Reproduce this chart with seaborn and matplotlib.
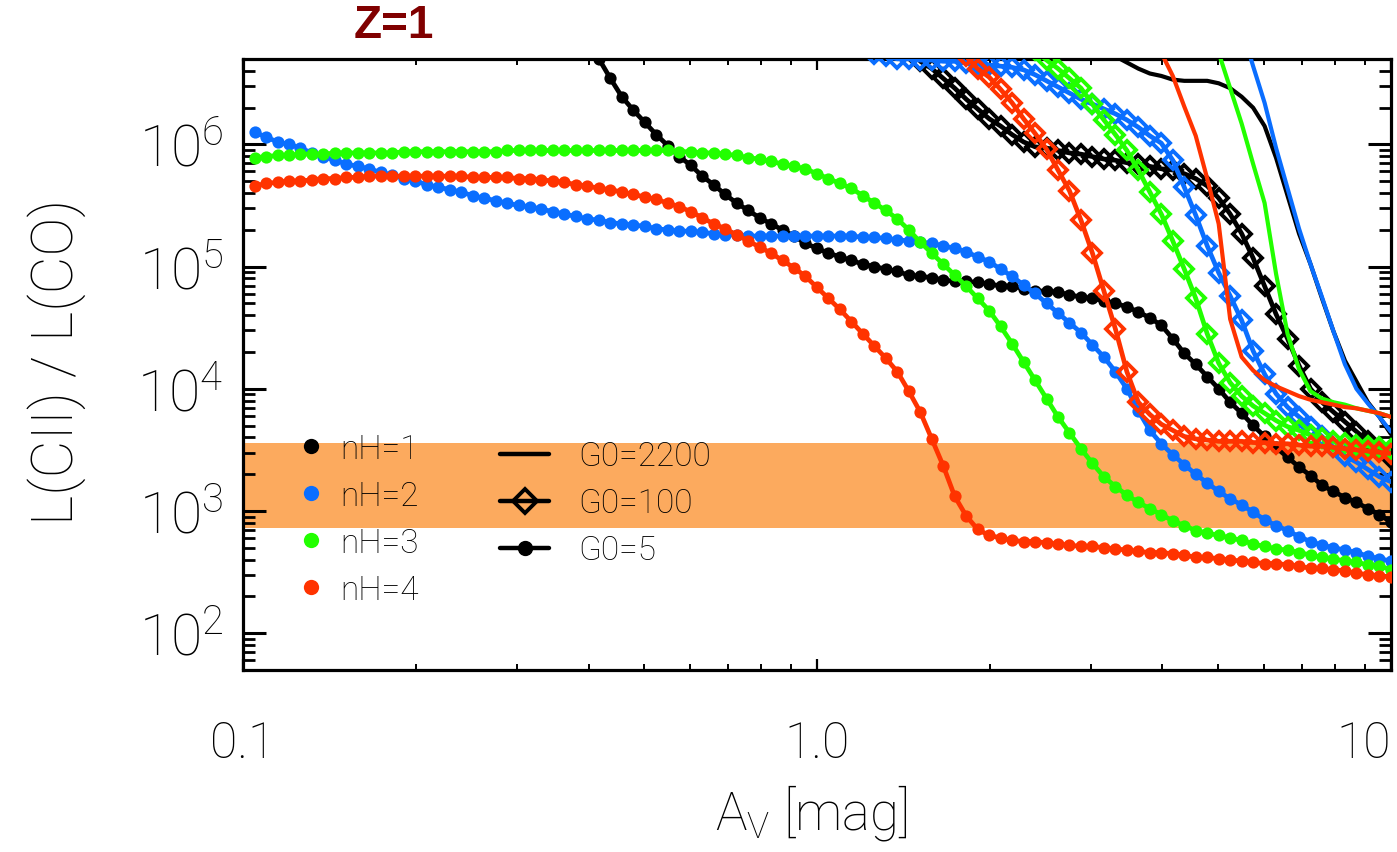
import numpy as np
import matplotlib
matplotlib.use("Agg")
import matplotlib.pyplot as plt
import seaborn as sns
from matplotlib.lines import Line2D
from matplotlib.ticker import FixedLocator, FixedFormatter, NullFormatter, LogLocator

# ---------------- data (log10 of L[CII]/L[CO]) ----------------
# model Av grid: 50 samples per decade, ending at Av = 10
av_grid = np.logspace(-0.98, 1.0, 100)

# G0 = 5  (filled dots)
g5_nh1 = [6.85, 6.70, 6.54, 6.39, 6.28, 6.18, 6.08, 5.99, 5.90, 5.83, 5.74,
          5.67, 5.59, 5.52, 5.46, 5.40, 5.35, 5.30, 5.25, 5.19, 5.15,
          5.11, 5.08, 5.05, 5.02, 5.00, 4.98, 4.96, 4.93, 4.92, 4.91,
          4.89, 4.88, 4.88, 4.87, 4.86, 4.84, 4.84, 4.82, 4.80, 4.80,
          4.79, 4.77, 4.75, 4.74, 4.72, 4.70, 4.67, 4.63, 4.58, 4.52,
          4.41, 4.29, 4.20, 4.10, 4.00, 3.89, 3.80, 3.70, 3.61, 3.52,
          3.44, 3.36, 3.29, 3.21, 3.16, 3.11, 3.07, 3.02, 2.97, 2.91]
g5_nh2 = [6.10, 6.06, 6.02, 6.00, 5.97, 5.93, 5.90, 5.87, 5.84, 5.82,
          5.80, 5.77, 5.75, 5.72, 5.70, 5.67, 5.65, 5.63, 5.61, 5.58,
          5.56, 5.54, 5.52, 5.50, 5.49, 5.47, 5.45, 5.43, 5.41, 5.39,
          5.38, 5.36, 5.35, 5.34, 5.33, 5.31, 5.30, 5.29, 5.29, 5.28,
          5.27, 5.26, 5.26, 5.25, 5.25, 5.25, 5.25, 5.25, 5.25, 5.25,
          5.25, 5.25, 5.25, 5.24, 5.24, 5.23, 5.22, 5.21, 5.20, 5.19,
          5.17, 5.15, 5.12, 5.08, 5.04, 4.98, 4.92, 4.85, 4.78, 4.70,
          4.62, 4.54, 4.46, 4.36, 4.26, 4.14, 4.00, 3.82, 3.66, 3.55,
          3.46, 3.38, 3.30, 3.23, 3.16, 3.10, 3.05, 2.99, 2.93, 2.88,
          2.84, 2.79, 2.75, 2.72, 2.70, 2.68, 2.66, 2.63, 2.61, 2.59]
g5_nh3 = [5.89, 5.90, 5.91, 5.91, 5.92, 5.92, 5.92, 5.93, 5.93, 5.93,
          5.93, 5.93, 5.93, 5.94, 5.94, 5.94, 5.94, 5.94, 5.94, 5.94,
          5.94, 5.94, 5.95, 5.95, 5.95, 5.95, 5.95, 5.95, 5.95, 5.95,
          5.95, 5.95, 5.95, 5.95, 5.95, 5.95, 5.95, 5.94, 5.94, 5.93,
          5.93, 5.92, 5.91, 5.89, 5.88, 5.86, 5.84, 5.82, 5.80, 5.76,
          5.72, 5.68, 5.64, 5.58, 5.52, 5.46, 5.39, 5.30, 5.20, 5.11,
          5.02, 4.93, 4.84, 4.74, 4.64, 4.51, 4.37, 4.22, 4.07, 3.92,
          3.77, 3.64, 3.51, 3.39, 3.28, 3.20, 3.13, 3.07, 3.02, 2.97,
          2.92, 2.88, 2.84, 2.82, 2.80, 2.78, 2.76, 2.73, 2.71, 2.69,
          2.68, 2.66, 2.64, 2.62, 2.61, 2.59, 2.58, 2.56, 2.55, 2.52]
g5_nh4 = [5.66, 5.68, 5.69, 5.70, 5.70, 5.71, 5.72, 5.72, 5.73, 5.73,
          5.74, 5.74, 5.74, 5.74, 5.74, 5.74, 5.74, 5.74, 5.74, 5.73,
          5.73, 5.73, 5.73, 5.72, 5.72, 5.71, 5.70, 5.69, 5.67, 5.66,
          5.64, 5.63, 5.61, 5.59, 5.57, 5.55, 5.52, 5.49, 5.45, 5.40,
          5.35, 5.31, 5.26, 5.21, 5.16, 5.11, 5.05, 4.99, 4.92, 4.83,
          4.74, 4.65, 4.55, 4.45, 4.35, 4.25, 4.14, 3.98, 3.81, 3.59,
          3.37, 3.12, 2.96, 2.85, 2.80, 2.78, 2.76, 2.75, 2.75, 2.74,
          2.73, 2.72, 2.71, 2.71, 2.70, 2.69, 2.68, 2.67, 2.66, 2.66,
          2.65, 2.64, 2.62, 2.62, 2.61, 2.60, 2.59, 2.58, 2.57, 2.57,
          2.56, 2.55, 2.53, 2.53, 2.52, 2.51, 2.49, 2.48, 2.47, 2.46]

# G0 = 100  (open diamonds)
g100_nh1 = [6.68, 6.62, 6.54, 6.46, 6.37, 6.29, 6.21, 6.15, 6.08, 6.02,
            5.98, 5.97, 5.95, 5.93, 5.92, 5.90, 5.88, 5.87, 5.85, 5.84,
            5.82, 5.80, 5.79, 5.76, 5.72, 5.66, 5.56, 5.43, 5.27, 5.07,
            4.84, 4.61, 4.41, 4.19, 4.00, 3.89, 3.81, 3.73, 3.65, 3.57,
            3.49, 3.43]
g100_nh2 = [6.74, 6.72, 6.70, 6.70, 6.69, 6.69, 6.68, 6.68, 6.67, 6.66,
            6.65, 6.64, 6.63, 6.61, 6.57, 6.52, 6.47, 6.42, 6.37, 6.33,
            6.29, 6.25, 6.20, 6.14, 6.07, 6.01, 5.87, 5.65, 5.42, 5.17,
            4.95, 4.76, 4.56, 4.31, 4.12, 3.96, 3.85, 3.77, 3.69, 3.61,
            3.52, 3.45, 3.40, 3.34, 3.28, 3.24]
g100_nh3 = [6.83, 6.77, 6.69, 6.62, 6.54, 6.46, 6.33, 6.20, 6.08, 5.95,
            5.79, 5.61, 5.43, 5.21, 4.98, 4.74, 4.45, 4.21, 4.05, 3.94,
            3.86, 3.80, 3.74, 3.69, 3.66, 3.62, 3.60, 3.57, 3.56, 3.54,
            3.53, 3.52, 3.51]
g100_nh4 = [6.80, 6.72, 6.62, 6.55, 6.45, 6.34, 6.21, 6.09, 5.96, 5.79,
            5.62, 5.38, 5.11, 4.80, 4.49, 4.14, 3.89, 3.79, 3.71, 3.66,
            3.61, 3.59, 3.58, 3.57, 3.57, 3.57, 3.56, 3.56, 3.55, 3.55,
            3.54, 3.53, 3.53, 3.52, 3.51, 3.50, 3.49, 3.48, 3.47]

# G0 = 2200  (plain lines)
g2200_nh1 = [6.72, 6.67, 6.62, 6.58, 6.56, 6.53, 6.52, 6.52, 6.52, 6.50,
             6.46, 6.39, 6.30, 6.15, 5.89, 5.58, 5.27, 5.02, 4.74, 4.47,
             4.23, 4.06, 3.89, 3.77, 3.63]
g2200_nh2 = [6.95, 6.64, 6.34, 5.97, 5.64, 5.31, 5.02, 4.75, 4.47, 4.20,
             4.00, 3.88, 3.77, 3.65]
g2200_nh3 = [6.75, 6.46, 6.17, 5.84, 5.52, 4.94, 4.45, 4.16, 3.98, 3.92,
             3.89, 3.87, 3.84, 3.82, 3.80, 3.77]
g2200_nh4 = [6.75, 6.56, 6.31, 6.07, 5.72, 5.35, 4.57, 4.26, 4.15, 4.07,
             4.02, 3.98, 3.94, 3.91, 3.89, 3.87, 3.85, 3.84, 3.82, 3.80,
             3.77]

nh_labels = ["nH=1", "nH=2", "nH=3", "nH=4"]
g0_labels = ["G0=2200", "G0=100", "G0=5"]
band_low, band_high = 730, 3600
xtick_vals = [0.1, 1.0, 10]
xtick_labels = ["0.1", "1.0", "10"]
ytick_vals = [1e2, 1e3, 1e4, 1e5, 1e6]
ytick_labels = [r"$\mathregular{10^{%d}}$" % e for e in [2, 3, 4, 5, 6]]

colors = ["#000000", "#0A6EFF", "#22FF00", "#FF3300"]
band_color = "#FCAA5E"

# ---------------- style ----------------
sns.set_style("ticks")
plt.rcParams["font.family"] = ["Roboto", "DejaVu Sans"]
plt.rcParams["font.weight"] = "light"
plt.rcParams["mathtext.fontset"] = "custom"
plt.rcParams["mathtext.rm"] = "Roboto:light"
for key in ["text.color", "axes.labelcolor", "xtick.color", "ytick.color"]:
    plt.rcParams[key] = "black"
thin = "light"

fig = plt.figure(figsize=(13.97, 8.53), dpi=100)
ax = fig.add_axes([0.174, 0.2134, 0.8216, 0.7163])

ax.axhspan(band_low, band_high, color=band_color, lw=0, zorder=0)

def draw(vals, color, kind):
    vals = np.asarray(vals)
    x = av_grid[len(av_grid) - len(vals):]
    y = 10 ** vals
    if kind == "dot":
        sns.lineplot(x=x, y=y, ax=ax, color=color, lw=3.4, marker="o", markersize=8.8,
                     markeredgecolor=color, markerfacecolor=color, markeredgewidth=0,
                     estimator=None, sort=False, legend=False, zorder=3)
    elif kind == "diamond":
        sns.lineplot(x=x, y=y, ax=ax, color=color, lw=3.4, marker="D", markersize=9.5,
                     markeredgecolor=color, markerfacecolor="none", markeredgewidth=2.8,
                     estimator=None, sort=False, legend=False, zorder=3)
    else:
        sns.lineplot(x=x, y=y, ax=ax, color=color, lw=3.0,
                     estimator=None, sort=False, legend=False, zorder=3)

for vals, c in zip([g5_nh1, g5_nh2, g5_nh3, g5_nh4], colors):
    draw(vals, c, "dot")
for vals, c in zip([g100_nh1, g100_nh2, g100_nh3, g100_nh4], colors):
    draw(vals, c, "diamond")
for vals, c in zip([g2200_nh1, g2200_nh2, g2200_nh3, g2200_nh4], colors):
    draw(vals, c, "line")

ax.set_xscale("log")
ax.set_yscale("log")
ax.set_xlim(0.1, 10.0)
ax.set_ylim(50, 5.0e6)

ax.xaxis.set_major_locator(FixedLocator(xtick_vals))
ax.xaxis.set_major_formatter(FixedFormatter(xtick_labels))
ax.xaxis.set_minor_locator(LogLocator(base=10, subs=np.arange(2, 10)))
ax.xaxis.set_minor_formatter(NullFormatter())
ax.yaxis.set_major_locator(FixedLocator(ytick_vals))
ax.yaxis.set_major_formatter(FixedFormatter(ytick_labels))
ax.yaxis.set_minor_locator(LogLocator(base=10, subs=np.arange(2, 10), numticks=20))
ax.yaxis.set_minor_formatter(NullFormatter())

for s in ax.spines.values():
    s.set_linewidth(2.3)
    s.set_color("black")

ax.tick_params(axis="x", which="major", direction="in", length=8, width=1.6,
               top=True, bottom=True, pad=36, labelsize=36)
ax.tick_params(axis="x", which="minor", direction="in", length=4.5, width=1.4,
               top=True, bottom=True)
ax.tick_params(axis="y", which="major", direction="in", length=16.5, width=2.2,
               left=True, right=True, pad=14, labelsize=41)
ax.tick_params(axis="y", which="minor", direction="in", length=8.5, width=2.0,
               left=True, right=True)
fig.canvas.draw()
xt = ax.get_xticklabels()
for lab in xt + ax.get_yticklabels():
    lab.set_fontweight(thin)
xt[-1].set_horizontalalignment("right")

ax.set_xlabel(r"$\mathregular{A_V}$ [mag]", fontsize=38, fontweight=thin)
ax.xaxis.set_label_coords(0.495, -0.183)
ax.set_ylabel("L(CII) / L(CO)", fontsize=42, fontweight=thin)
ax.yaxis.set_label_coords(-0.137, 0.506)

fig.text(0.282, 0.969, "Z=1", ha="center", va="center", fontsize=33,
         fontweight="bold", color="#800000", family="Liberation Sans")

# legends
h1 = [Line2D([], [], ls="none", marker="o", markersize=11, color=c,
             markeredgewidth=0) for c in colors]
leg1 = ax.legend(h1, nh_labels, loc="upper left", bbox_to_anchor=(0.0444, 0.388),
                 frameon=False, handlelength=1.0, handletextpad=0.4,
                 labelspacing=0.45, borderpad=0, borderaxespad=0,
                 prop={"weight": thin, "size": 24})
ax.add_artist(leg1)
h2 = [Line2D([], [], color="k", lw=3.2),
      Line2D([], [], color="k", lw=3.2, marker="D", markersize=12,
             markerfacecolor="none", markeredgewidth=2.8),
      Line2D([], [], color="k", lw=3.2, marker="o", markersize=10)]
ax.legend(h2, g0_labels, loc="upper left", bbox_to_anchor=(0.224, 0.376),
          frameon=False, handlelength=1.47, handletextpad=0.87,
          labelspacing=0.45, borderpad=0, borderaxespad=0,
          prop={"weight": thin, "size": 24})

fig.savefig("out.png", dpi=100)
